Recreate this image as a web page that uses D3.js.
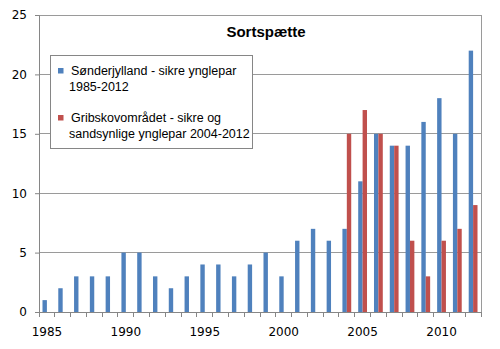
<!DOCTYPE html>
<html><head><meta charset="utf-8">
<script src="https://cdn.jsdelivr.net/npm/d3@7"></script>
<style>body{margin:0;background:#fff}svg{display:block}</style>
</head><body>
<svg id="c" width="500" height="349"></svg>
<script>
const years = d3.range(1985, 2013);
const sonderjylland = [1,2,3,3,3,5,5,3,2,3,4,4,3,4,5,3,6,7,6,7,11,15,14,14,16,18,15,22];
const gribskovYears = [2004,2005,2006,2007,2008,2009,2010,2011,2012];
const gribskov = [15,17,15,14,6,3,6,7,9];
const yTicks = [0,5,10,15,20,25];
const xLabels = [1985,1990,1995,2000,2005,2010];
const seriesNames = ["Sønderjylland - sikre ynglepar|1985-2012", "Gribskovområdet - sikre og|sandsynlige ynglepar 2004-2012"];
const colors = ["#4F81BD", "#C0504D"];

const svg = d3.select("#c");
const L = 39, R = 481, T = 15, B = 312;
const font = "Liberation Sans, Arial, sans-serif";
const axisFont = "DejaVu Sans, sans-serif";

const x = d3.scaleBand().domain(years).range([L, R]).padding(0);
const y = d3.scaleLinear().domain([0, 25]).range([B, T]);
const bw = 4.4;

// gridlines
svg.append("g").selectAll("line").data(yTicks.filter(d => d > 0)).join("line")
  .attr("x1", L).attr("x2", R).attr("y1", d => y(d)).attr("y2", d => y(d))
  .attr("stroke", "#9a9a9a").attr("stroke-width", 1).attr("shape-rendering","crispEdges");
// right border
svg.append("line").attr("x1", R).attr("x2", R).attr("y1", T).attr("y2", B)
  .attr("stroke", "#9a9a9a").attr("shape-rendering","crispEdges");

// bars
svg.append("g").selectAll("rect").data(years.map((yr,i)=>({yr, v: sonderjylland[i]}))).join("rect")
  .attr("x", d => x(d.yr) + x.bandwidth()/2 - bw)
  .attr("width", bw)
  .attr("y", d => y(d.v)).attr("height", d => B - y(d.v))
  .attr("fill", colors[0]);
svg.append("g").selectAll("rect").data(gribskovYears.map((yr,i)=>({yr, v: gribskov[i]}))).join("rect")
  .attr("x", d => x(d.yr) + x.bandwidth()/2)
  .attr("width", bw)
  .attr("y", d => y(d.v)).attr("height", d => B - y(d.v))
  .attr("fill", colors[1]);

// y axis
const ya = svg.append("g").attr("transform", `translate(${L},0)`)
  .call(d3.axisLeft(y).tickValues(yTicks).tickSize(4).tickPadding(8));
ya.select(".domain").attr("stroke", "#868686");
ya.selectAll(".tick line").attr("stroke", "#868686");
ya.selectAll("text").attr("font-family", axisFont).attr("font-size", 12).attr("fill", "#000");

// x axis
const xa = svg.append("g").attr("transform", `translate(0,${B})`)
  .call(d3.axisBottom(x).tickValues(xLabels).tickSize(0).tickPadding(15));
xa.select(".domain").attr("stroke", "#868686");
xa.selectAll("text").attr("font-family", axisFont).attr("font-size", 12).attr("fill", "#000");
// boundary ticks
svg.append("g").selectAll("line").data(years.concat([2013])).join("line")
  .attr("x1", d => d === 2013 ? R : x(d)).attr("x2", d => d === 2013 ? R : x(d))
  .attr("y1", B).attr("y2", B + 5)
  .attr("stroke", "#868686").attr("shape-rendering","crispEdges");

// title
svg.append("text").attr("x", 266).attr("y", 37).attr("text-anchor", "middle")
  .attr("font-family", font).attr("font-weight", "bold").attr("font-size", 15)
  .text("Sortspætte");

// legend
const lg = svg.append("g");
lg.append("rect").attr("x", 50.5).attr("y", 55.5).attr("width", 202).attr("height", 93)
  .attr("fill", "#fff").attr("stroke", "#868686");
const rows = [{y: 68}, {y: 115}];
seriesNames.forEach((nm, i) => {
  lg.append("rect").attr("x", 58).attr("y", rows[i].y).attr("width", 5.5).attr("height", 5.5).attr("fill", colors[i]);
  const parts = nm.split("|");
  lg.append("text").attr("x", 71).attr("y", rows[i].y + 6.5)
    .attr("font-family", font).attr("font-size", 12.5).text(parts[0]);
  lg.append("text").attr("x", 69).attr("y", rows[i].y + 6.5 + 16)
    .attr("font-family", font).attr("font-size", 12.5).text(parts[1]);
});
</script>
</body></html>
